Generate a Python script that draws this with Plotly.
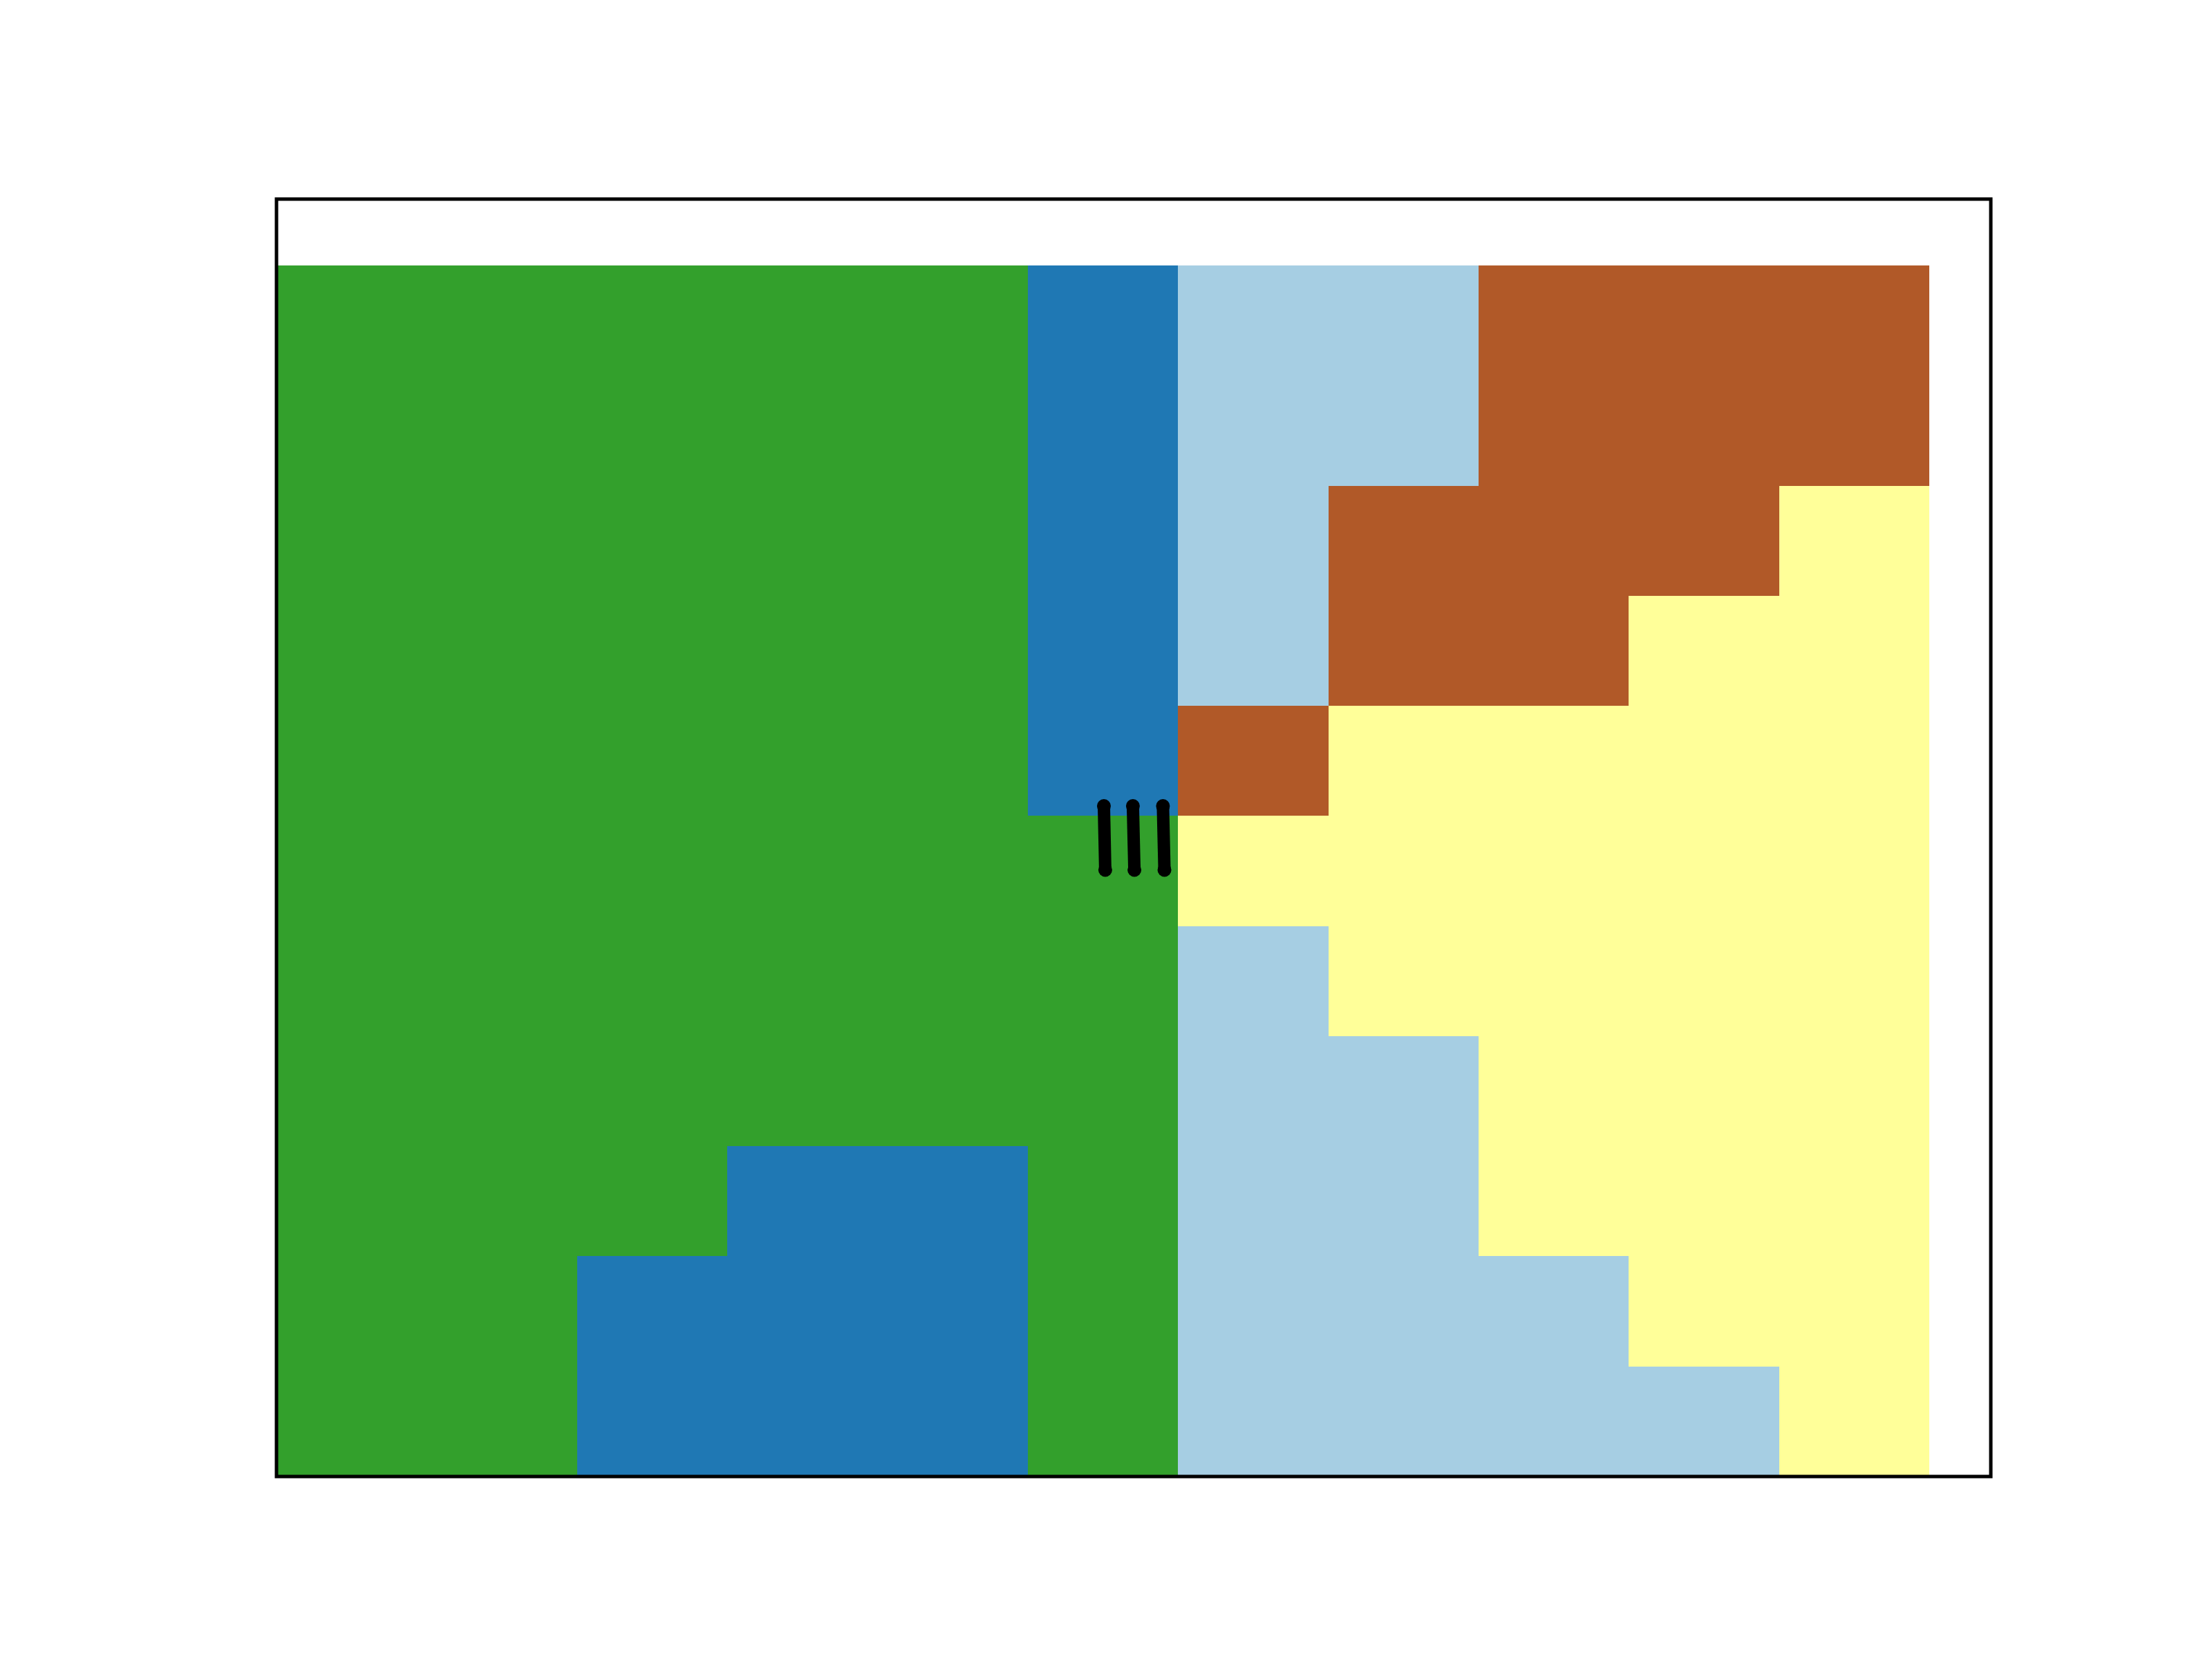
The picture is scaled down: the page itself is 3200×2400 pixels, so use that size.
import plotly.graph_objects as go

# Category grid, rows listed bottom (row 0) to top (row 10)
# L = light blue, B = dark blue, G = green, Y = yellow, R = brown
rows = [
    "GGBBBGLLLLY",
    "GGBBBGLLLYY",
    "GGGBBGLLYYY",
    "GGGGGGLLYYY",
    "GGGGGGLYYYY",
    "GGGGGGYYYYY",
    "GGGGGBRYYYY",
    "GGGGGBLRRYY",
    "GGGGGBLRRRY",
    "GGGGGBLLRRR",
    "GGGGGBLLRRR",
]
categories = ["L", "B", "G", "Y", "R"]
colors = ["#a6cee3", "#1f78b4", "#33a02c", "#ffff99", "#b15928"]

x_centers = [i + 0.5 for i in range(11)]
y_centers = [j + 0.5 for j in range(11)]

# Black segments (x top, y top, x bottom, y bottom)
seg_x_top = [5.507, 5.70, 5.90]
seg_x_bot = [5.516, 5.71, 5.91]
seg_y_top = 6.09
seg_y_bot = 5.51

z = [[categories.index(c) for c in r] for r in rows]
n = len(categories)
colorscale = []
for k, c in enumerate(colors):
    colorscale.append([k / n, c])
    colorscale.append([(k + 1) / n, c])

fig = go.Figure()
fig.add_trace(go.Heatmap(
    z=z, x=x_centers, y=y_centers,
    colorscale=colorscale, zmin=-0.5, zmax=n - 0.5,
    showscale=False, hoverinfo="skip",
))
for xt, xb in zip(seg_x_top, seg_x_bot):
    fig.add_trace(go.Scatter(
        x=[xt, xb], y=[seg_y_top, seg_y_bot],
        mode="lines+markers",
        line=dict(color="black", width=18),
        marker=dict(color="black", size=20),
        showlegend=False, hoverinfo="skip",
    ))

fig.update_layout(
    width=3200, height=2400,
    margin=dict(l=400, r=320, t=288, b=264, pad=0),
    paper_bgcolor="white", plot_bgcolor="white",
    showlegend=False,
    xaxis=dict(range=[0, 11.41], visible=False, showgrid=False, zeroline=False, fixedrange=True),
    yaxis=dict(range=[0, 11.603], visible=False, showgrid=False, zeroline=False, fixedrange=True),
    shapes=[dict(type="rect", xref="paper", yref="paper", x0=0, x1=1, y0=0, y1=1,
                 line=dict(color="black", width=5), layer="above")],
)
fig.write_html("out.html")
